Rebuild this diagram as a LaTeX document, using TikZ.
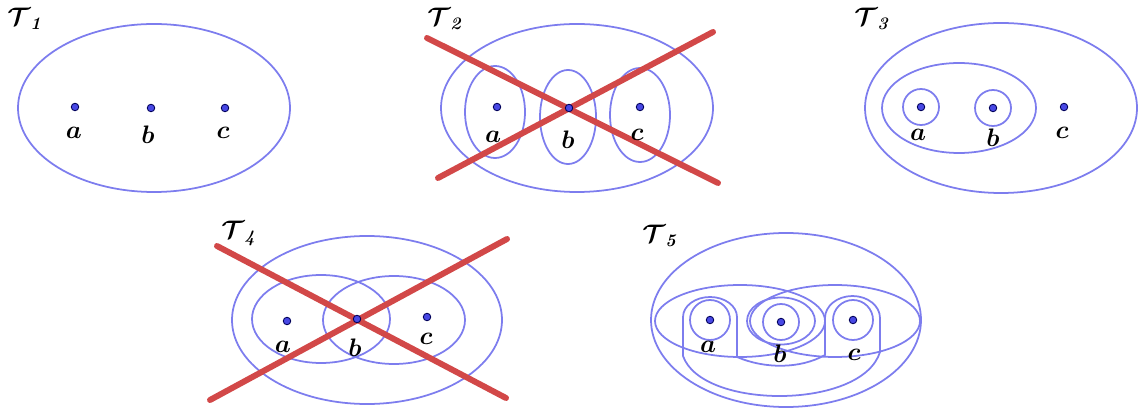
\documentclass[tikz,border=0pt]{standalone}
\usepackage{amsmath}
\usepackage{bm}
\usepackage{xcolor}
\usepackage{tikz}
\definecolor{loopblue}{RGB}{125,125,238}
\definecolor{ptblue}{RGB}{72,72,228}
\definecolor{crossred}{RGB}{210,72,72}

\begin{document}
\begin{tikzpicture}[
    x=0.02cm, y=-0.02cm,
    curve/.style={draw=loopblue, line width=1pt},
    pt/.style={circle, draw=blue!35!black, fill=ptblue, inner sep=0pt, minimum size=0.15cm, line width=0.5pt},
    cross/.style={draw=crossred, line width=3.4pt, line cap=round},
    lbl/.style={font=\Large, inner sep=0pt},
    ttl/.style={font=\Large, anchor=base west, inner sep=0pt}
]
\useasboundingbox (0,0) rectangle (1138,408);

% T1
\draw[curve] (154,108) ellipse [x radius=136, y radius=84];
\node[pt] (a1) at (75,107) {};
\node[pt] (b1) at (151,108) {};
\node[pt] (c1) at (225,108) {};

% T2
\draw[curve] (577,108) ellipse [x radius=136, y radius=84];
\draw[curve] (495,112) ellipse [x radius=30, y radius=46];
\draw[curve] (568,117) ellipse [x radius=28, y radius=47];
\draw[curve] (640,115) ellipse [x radius=30, y radius=47];
\coordinate (x2nw) at (427,38);
\coordinate (x2se) at (718,183);
\coordinate (x2sw) at (438,178);
\coordinate (x2ne) at (713,32);
\draw[cross] (x2nw) -- (x2se);
\draw[cross] (x2sw) -- (x2ne);
\node[pt] (a2) at (497,107) {};
\node[pt] (b2) at (569,108) {};
\node[pt] (c2) at (640,107) {};

% T3
\draw[curve] (1001,108) ellipse [x radius=136, y radius=85];
\draw[curve] (959,108) ellipse [x radius=77, y radius=45];
\draw[curve] (921,107) circle [radius=18];
\draw[curve] (993,108) circle [radius=18];
\node[pt] (a3) at (921,107) {};
\node[pt] (b3) at (993,108) {};
\node[pt] (c3) at (1064,107) {};

% T4
\draw[curve] (367,320) ellipse [x radius=135, y radius=84];
\draw[curve] (321,319) ellipse [x radius=69, y radius=44];
\draw[curve] (394,320) ellipse [x radius=71, y radius=44];
\coordinate (x4nw) at (217,246);
\coordinate (x4se) at (506,398);
\coordinate (x4sw) at (210,400);
\coordinate (x4ne) at (507,239);
\draw[cross] (x4nw) -- (x4se);
\draw[cross] (x4sw) -- (x4ne);
\node[pt] (a4) at (287,321) {};
\node[pt] (b4) at (357,319) {};
\node[pt] (c4) at (427,317) {};

% T5
\draw[curve] (786,320) ellipse [x radius=135, y radius=87];
\draw[curve] (740,321) ellipse [x radius=85, y radius=36];
\draw[curve] (835,321) ellipse [x radius=85, y radius=36];
\draw[curve] (781,321) ellipse [x radius=34, y radius=23.5];
\draw[curve] (710,320) circle [radius=20];
\draw[curve] (781,322) circle [radius=18];
\draw[curve] (853,320) circle [radius=20];
\draw[curve] (683,356) -- (683,317) arc [start angle=180, end angle=360, x radius=27, y radius=20]
    -- (737,357) .. controls (765,369) and (800,369) .. (825,355)
    -- (825,318) arc [start angle=180, end angle=360, x radius=27.5, y radius=22]
    -- (880,352) .. controls (862,410) and (702,410) .. (683,356);
\node[pt] (a5) at (710,320) {};
\node[pt] (b5) at (781,322) {};
\node[pt] (c5) at (853,320) {};

% labels
\foreach \nm/\px/\py in {a/74/133, b/148/135, c/223/133,
                         a/493/137, b/568/140, c/637/135,
                         a/918/135, b/993/138, c/1062/133,
                         a/283/347, b/355/348, c/426/339,
                         a/708/347, b/780/354, c/854/355}
  \node[lbl] at (\px,\py) {$\bm{\nm}$};

% titles
\node[ttl] (t1) at (7,26) {$\bm{\mathcal{T}}_{\textbf{\textit{1}}}$};
\node[ttl] (t2) at (427,26) {$\bm{\mathcal{T}}_{\textbf{\textit{2}}}$};
\node[ttl] (t3) at (854,26) {$\bm{\mathcal{T}}_{\textbf{\textit{3}}}$};
\node[ttl] (t4) at (221,239) {$\bm{\mathcal{T}}_{\textbf{\textit{4}}}$};
\node[ttl] (t5) at (642,243) {$\bm{\mathcal{T}}_{\textbf{\textit{5}}}$};

\end{tikzpicture}
\end{document}
